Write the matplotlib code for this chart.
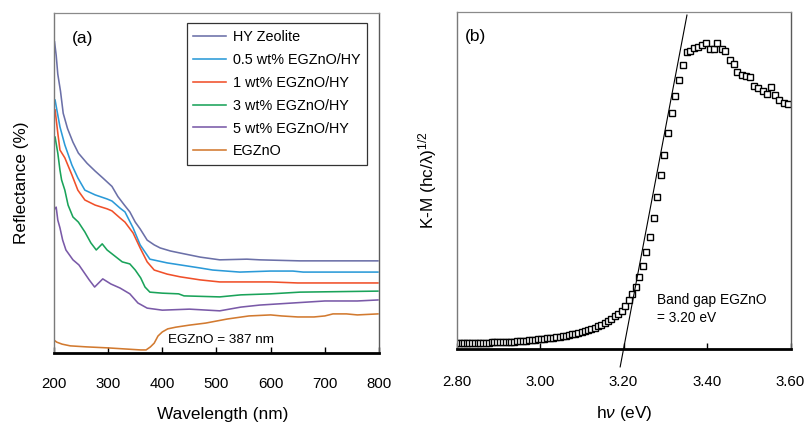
import matplotlib
matplotlib.use("Agg")
import matplotlib.pyplot as plt

plt.rcParams['font.family'] = ['Liberation Sans', 'DejaVu Sans']
plt.rcParams['mathtext.fontset'] = 'custom'
plt.rcParams['mathtext.rm'] = 'Liberation Sans'
plt.rcParams['mathtext.it'] = 'Liberation Sans:italic'

# ---------------- panel (a) data: reflectance spectra ----------------
hy_nm = [201, 204, 207, 212, 217, 225, 235, 245, 261, 276, 290, 307, 318, 330, 340, 350, 359, 372, 385, 396, 415, 433, 470, 506, 556, 580, 654, 700, 798]
hy_r = [91.5, 87.6, 82, 77, 70.5, 66, 62, 58.8, 55.8, 53.5, 51.5, 49, 46, 43.5, 41.5, 38.5, 36.5, 33.2, 31.8, 30.9, 30, 29.4, 28.2, 27.4, 27.6, 27.4, 27.1, 27.1, 27.1]

b05_nm = [202, 207, 211, 220, 233, 244, 257, 276, 298, 307, 322, 331, 346, 359, 377, 409, 470, 493, 543, 599, 641, 660, 798]
b05_r = [74.4, 70, 66.5, 61.2, 55.3, 51.5, 47.9, 46.5, 45.3, 44.7, 42.6, 41.5, 36.8, 31.8, 27.6, 26.5, 25, 24.4, 23.8, 24.1, 24.1, 23.8, 23.8]

w1_nm = [202, 207, 211, 220, 233, 244, 257, 276, 298, 307, 322, 331, 346, 359, 372, 385, 409, 433, 470, 506, 600, 650, 798]
w1_r = [71.5, 64.7, 59.7, 57.4, 52.4, 47.9, 45, 43.5, 42.4, 41.8, 39.7, 38.5, 35.3, 30.9, 26.8, 24.4, 23.2, 22.4, 21.5, 20.9, 20.9, 20.6, 20.6]

w3_nm = [202, 207, 211, 214, 220, 226, 235, 245, 257, 268, 278, 289, 298, 310, 326, 340, 350, 360, 368, 377, 400, 430, 440, 506, 545, 600, 654, 798]
w3_r = [63.5, 58.8, 53.8, 50.9, 47.9, 43.5, 40, 38.5, 35.6, 32.4, 30.3, 32.1, 30.3, 28.8, 26.8, 26.2, 24.4, 22.1, 19.4, 17.9, 17.6, 17.4, 16.8, 16.5, 17.1, 17.4, 17.9, 18.2]

w5_nm = [200, 204, 207, 211, 216, 222, 235, 246, 265, 275, 290, 305, 322, 340, 355, 372, 400, 450, 506, 545, 580, 640, 700, 760, 798]
w5_r = [42.1, 42.9, 39.1, 36.8, 33.2, 30.3, 27.4, 25.9, 21.5, 19.4, 21.8, 20.3, 19.1, 17.4, 14.7, 13.2, 12.6, 12.9, 12.4, 13.5, 14.1, 14.7, 15.3, 15.3, 15.6]

zno_nm = [200, 205, 215, 230, 260, 300, 330, 360, 370, 378, 385, 392, 400, 410, 425, 450, 480, 520, 560, 600, 620, 650, 680, 700, 715, 740, 760, 798]
zno_r = [3.8, 3.2, 2.6, 2.1, 1.8, 1.5, 1.2, 0.9, 0.9, 1.8, 2.9, 5.0, 6.2, 7.1, 7.6, 8.2, 8.8, 10.0, 10.9, 11.2, 10.9, 10.6, 10.6, 10.9, 11.5, 11.5, 11.2, 11.5]

series_labels = ['HY Zeolite', '0.5 wt% EGZnO/HY', '1 wt% EGZnO/HY',
                 '3 wt% EGZnO/HY', '5 wt% EGZnO/HY', 'EGZnO']
series_colors = ['#6b70a8', '#2b9ad8', '#f0502a', '#1aa35a', '#7a5aa8', '#d27a30']

# ---------------- panel (b) data: Kubelka-Munk plot ----------------
hv = [2.799, 2.805, 2.812, 2.818, 2.825, 2.831, 2.838, 2.844, 2.851, 2.857,
      2.864, 2.870, 2.877, 2.884, 2.890, 2.897, 2.904, 2.911, 2.918, 2.925,
      2.931, 2.938, 2.945, 2.952, 2.959, 2.967, 2.974, 2.981, 2.988, 2.995,
      3.002, 3.010, 3.017, 3.024, 3.032, 3.039, 3.047, 3.054, 3.062, 3.069,
      3.077, 3.085, 3.092, 3.100, 3.108, 3.116, 3.123, 3.131, 3.139, 3.147,
      3.155, 3.163, 3.171, 3.179, 3.188, 3.196, 3.204, 3.212, 3.221, 3.229,
      3.238, 3.246, 3.255, 3.263, 3.272, 3.280, 3.289, 3.298, 3.307, 3.316,
      3.324, 3.333, 3.342, 3.351, 3.360, 3.370, 3.379, 3.388, 3.397, 3.407,
      3.416, 3.425, 3.435, 3.444, 3.454, 3.464, 3.473, 3.483, 3.493, 3.503,
      3.513, 3.523, 3.533, 3.543, 3.553, 3.563, 3.573, 3.584, 3.594]
km = [1.72, 1.75, 1.75, 1.78, 1.78, 1.81, 1.81, 1.84, 1.84, 1.87,
      1.87, 1.90, 1.90, 1.93, 1.96, 1.99, 2.02, 2.05, 2.08, 2.11,
      2.16, 2.22, 2.28, 2.34, 2.40, 2.46, 2.55, 2.64, 2.73, 2.82,
      2.91, 3.02, 3.14, 3.26, 3.38, 3.50, 3.65, 3.79, 3.94, 4.12,
      4.30, 4.51, 4.74, 5.04, 5.34, 5.63, 5.99, 6.37, 6.82, 7.26,
      7.77, 8.36, 9.01, 9.69, 10.52, 11.41, 12.75, 14.53, 16.31, 18.38,
      21.35, 24.61, 28.76, 33.20, 38.84, 45.06, 51.59, 57.52, 64.04, 69.97,
      75.01, 79.75, 84.20, 88.05, 88.35, 89.24, 89.53, 90.13, 90.72, 88.94,
      88.94, 90.72, 88.94, 88.35, 85.68, 84.49, 82.12, 81.23, 80.94, 80.64,
      77.97, 77.38, 76.49, 75.60, 77.68, 75.30, 73.82, 72.93, 72.64]
fit_hv = [3.192, 3.352]
fit_km = [-5.3, 99.0]

xticks_a = [200, 300, 400, 500, 600, 700, 800]
xticks_b = [2.80, 3.00, 3.20, 3.40, 3.60]
xticklabels_b = ['2.80', '3.00', '3.20', '3.40', '3.60']

W, H = 806, 424
fig = plt.figure(figsize=(W / 100, H / 100), dpi=100)

def px_ax(l, t, r, b):
    return fig.add_axes([l / W, 1 - b / H, (r - l) / W, (b - t) / H])

def style(ax):
    ax.spines['left'].set_color('#7a7a7a')
    ax.spines['left'].set_linewidth(1.0)
    ax.spines['top'].set_color('#8a8a8a')
    ax.spines['top'].set_linewidth(0.9)
    ax.spines['right'].set_color('#5a5a5a')
    ax.spines['right'].set_linewidth(1.0)
    ax.spines['bottom'].set_color('black')
    ax.spines['bottom'].set_linewidth(2.0)
    ax.set_yticks([])
    ax.tick_params(axis='x', direction='in', length=4, width=1.0,
                   labelsize=10.8, colors='black')

# ---------------- panel (a) ----------------
axa = px_ax(54, 13, 379, 353)
xs = [hy_nm, b05_nm, w1_nm, w3_nm, w5_nm, zno_nm]
ys = [hy_r, b05_r, w1_r, w3_r, w5_r, zno_r]
for x, y, lab, c in zip(xs, ys, series_labels, series_colors):
    axa.plot(x, y, color=c, lw=1.15, label=lab)
axa.set_xlim(200, 800)
axa.set_ylim(0, 100)
axa.set_xticks(xticks_a)
style(axa)
axa.tick_params(axis='x', pad=17)
leg = axa.legend(loc='upper right', bbox_to_anchor=(0.962, 0.97), fontsize=10.4,
                 frameon=True, fancybox=False, handlelength=2.3, handletextpad=0.42,
                 labelspacing=0.62, borderpad=0.45, borderaxespad=0)
leg.get_frame().set_edgecolor('black')
leg.get_frame().set_linewidth(0.9)
axa.text((168 - 54) / 325, (353 - 340) / 340, 'EGZnO = 387 nm', transform=axa.transAxes,
         fontsize=9.7, ha='left', va='center')
fig.text(72 / W, 1 - 38 / H, '(a)', fontsize=12.5, ha='left', va='center')
fig.text(22 / W, 1 - 183 / H, 'Reflectance (%)', fontsize=12.3, rotation=90,
         ha='center', va='center')
fig.text(222.5 / W, 5 / H, 'Wavelength (nm)', fontsize=12.4, ha='center', va='baseline')

# ---------------- panel (b) ----------------
axb = px_ax(456.5, 11.7, 790.5, 349)
axb.plot(hv, km, linestyle='none', marker='s', markersize=3.7, markerfacecolor='white',
         markeredgecolor='black', markeredgewidth=1.0)
axb.plot(fit_hv, fit_km, color='black', lw=0.8, clip_on=False)
axb.set_xlim(2.80, 3.60)
axb.set_ylim(0, 100)
axb.set_xticks(xticks_b)
axb.set_xticklabels(xticklabels_b)
style(axb)
axb.tick_params(axis='x', pad=18.5)
axb.text((657 - 456.5) / 334, (349 - 300) / 337.3, 'Band gap EGZnO', transform=axb.transAxes,
         fontsize=9.9, ha='left', va='center')
axb.text((657 - 456.5) / 334, (349 - 318) / 337.3, '= 3.20 eV', transform=axb.transAxes,
         fontsize=9.9, ha='left', va='center')
fig.text(465 / W, 1 - 37 / H, '(b)', fontsize=12.5, ha='left', va='center')
fig.text(428 / W, 1 - 180 / H, r'K-M (hc/λ)$^{\mathregular{1/2}}$', fontsize=12.4, rotation=90,
         ha='center', va='center')
fig.text(624.5 / W, 6 / H, r'h$\mathit{\nu}$ (eV)', fontsize=12.4, ha='center', va='baseline')

fig.savefig('out.png', dpi=100)
